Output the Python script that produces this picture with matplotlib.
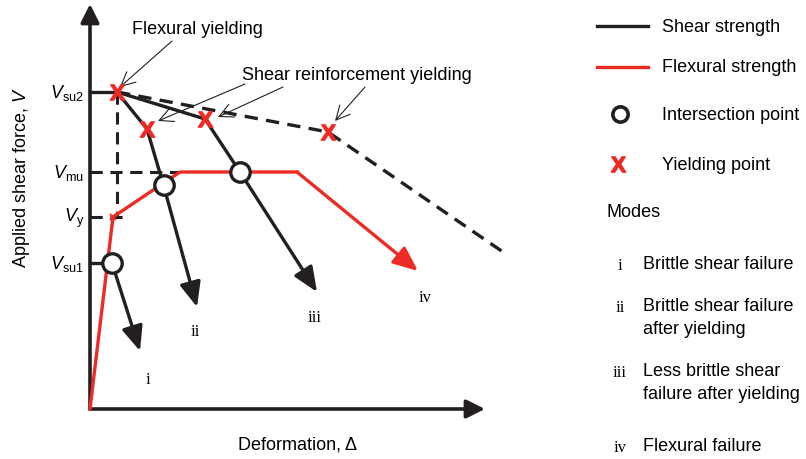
import matplotlib.pyplot as plt

plt.rcParams['font.family'] = 'Liberation Sans'
plt.rcParams['mathtext.fontset'] = 'custom'
plt.rcParams['mathtext.rm'] = 'Liberation Sans'
plt.rcParams['mathtext.it'] = 'Liberation Sans:italic'
plt.rcParams['mathtext.bf'] = 'Liberation Sans:bold'

# characteristic force levels (diagram units)
v_su2 = 317
v_mu = 237
v_y = 192
v_su1 = 146
d_y = 27        # deformation at flexural yielding
d_fy = 23       # deformation at yield of the flexural curve

# flexural strength curve (red)
flex_d = [0, 23, 90, 207, 328]
flex_v = [0, 192, 237, 237, 138]

# shear strength curves (black), last point = arrow tip
shear_i_d = [22, 50]
shear_i_v = [146, 58]
shear_ii_d = [27, 57, 74, 107]
shear_ii_v = [317, 280, 222, 102]
shear_iii_d = [27, 115, 150, 227]
shear_iii_v = [317, 290, 237, 117]
shear_dash_d = [27, 238, 413]
shear_dash_v = [317, 277, 157]

# markers
yield_d = [27, 57, 115, 238]
yield_v = [317, 280, 290, 277]
inter_d = [22, 74, 150]
inter_v = [146, 224, 237]

mode_names = ['i', 'ii', 'iii', 'iv']
mode_d = [58, 105, 225, 335]
mode_v = [30, 78, 92, 112]
mode_text = ['Brittle shear failure', 'Brittle shear failure\nafter yielding',
             'Less brittle shear\nfailure after yielding', 'Flexural failure']

red = '#ee2a24'
blk = '#231f20'
xmark = r'$\mathbf{X}$'

fig = plt.figure(figsize=(8.06, 4.60), dpi=100)
ax = fig.add_axes([0, 0, 1, 1])
ax.set_xlim(-90, 716)
ax.set_ylim(-50, 410)
ax.axis('off')

def arrow(x0, y0, x1, y1, col, lw, ms=20, hl=0.75, hw=0.32):
    ax.annotate('', xy=(x1, y1), xytext=(x0, y0),
                arrowprops=dict(arrowstyle='-|>,head_length=%g,head_width=%g' % (hl, hw),
                                color=col, lw=lw, mutation_scale=ms,
                                shrinkA=0, shrinkB=0))

def pointer(x0, y0, x1, y1):
    ax.annotate('', xy=(x1, y1), xytext=(x0, y0),
                arrowprops=dict(arrowstyle='->,head_length=0.5,head_width=0.25',
                                color=blk, lw=0.8, mutation_scale=20,
                                shrinkA=0, shrinkB=0))

# axes with arrows
arrow(0, 0, 0, 405, blk, 2.6, 14, 0.8, 0.4)
arrow(0, 0, 395, 0, blk, 2.6, 14, 0.8, 0.4)

# guide lines
ax.plot([0, d_y], [v_su2, v_su2], color=blk, lw=2.4)
ax.plot([0, inter_d[0]], [v_su1, v_su1], color=blk, lw=2.4)
ax.plot([0, 90], [v_mu, v_mu], color=blk, lw=2.2, ls=(0, (4, 2.5)))
ax.plot([0, 38], [v_y, v_y], color=blk, lw=2.2, ls=(0, (4, 2.5)))
ax.plot([d_y, d_y], [v_su2, v_y], color=blk, lw=2.2, ls=(0, (4, 2.5)))

# flexural curve
ax.plot(flex_d[:-1], flex_v[:-1], color=red, lw=2.4, zorder=3)
arrow(flex_d[-2], flex_v[-2], flex_d[-1], flex_v[-1], red, 2.4)

# shear curves
for sd, sv in [(shear_i_d, shear_i_v), (shear_ii_d, shear_ii_v), (shear_iii_d, shear_iii_v)]:
    if len(sd) > 2:
        ax.plot(sd[:-1], sv[:-1], color=blk, lw=2.4, zorder=4)
    arrow(sd[-2], sv[-2], sd[-1], sv[-1], blk, 2.4)
ax.plot(shear_dash_d, shear_dash_v, color=blk, lw=2.4, ls=(0, (4, 2.5)), zorder=4)

# markers
ax.plot(inter_d, inter_v, 'o', ms=14, mfc='white', mec=blk, mew=2.4, zorder=6)
ax.plot(yield_d, yield_v, ls='none', marker=xmark, ms=11, color=red, zorder=7)
ax.plot([d_fy], [v_y], 'x', ms=4, mec=red, mew=1.4, zorder=7)

# force level labels
for v, lab in [(v_su2, 'su2'), (v_mu, 'mu'), (v_y, 'y'), (v_su1, 'su1')]:
    ax.text(-6, v, r'$V_{\rm %s}$' % lab, ha='right', va='center', fontsize=13)

ax.text(-68, 232, r'Applied shear force, $V$', rotation=90, ha='center',
        va='center', fontsize=13)
ax.text(207, -35, 'Deformation, \u0394', ha='center', va='center', fontsize=13)

# annotations
ax.text(107, 380, 'Flexural yielding', ha='center', va='center', fontsize=13)
pointer(82, 368, 30, 322)
ax.text(267, 335, 'Shear reinforcement yielding', ha='center', va='center', fontsize=13)
pointer(155, 325, 68, 288)
pointer(193, 322, 128, 292)
pointer(275, 322, 245, 288)

for name, d, v in zip(mode_names, mode_d, mode_v):
    ax.text(d, v, name, ha='center', va='center', fontsize=12,
            family='Liberation Serif')

# legend
ax.plot([507, 558], [383, 383], color=blk, lw=2.4)
ax.text(572, 383, 'Shear strength', va='center', fontsize=13)
ax.plot([507, 558], [342, 342], color=red, lw=2.4)
ax.text(572, 342, 'Flexural strength', va='center', fontsize=13)
ax.plot([530], [295], 'o', ms=11, mfc='white', mec=blk, mew=2.6)
ax.text(572, 295, 'Intersection point', va='center', fontsize=13)
ax.plot([528], [245], ls='none', marker=xmark, ms=11, color=red)
ax.text(572, 245, 'Yielding point', va='center', fontsize=13)
ax.text(517, 197, 'Modes', va='center', fontsize=13)

mode_y = [152, 110, 45, -30]
for name, txt, y in zip(mode_names, mode_text, mode_y):
    ax.text(530, y, name, ha='center', va='top', fontsize=12, family='Liberation Serif')
    ax.text(553, y + 2, txt, ha='left', va='top', fontsize=13, linespacing=1.45)

fig.savefig('out.png', dpi=100)
